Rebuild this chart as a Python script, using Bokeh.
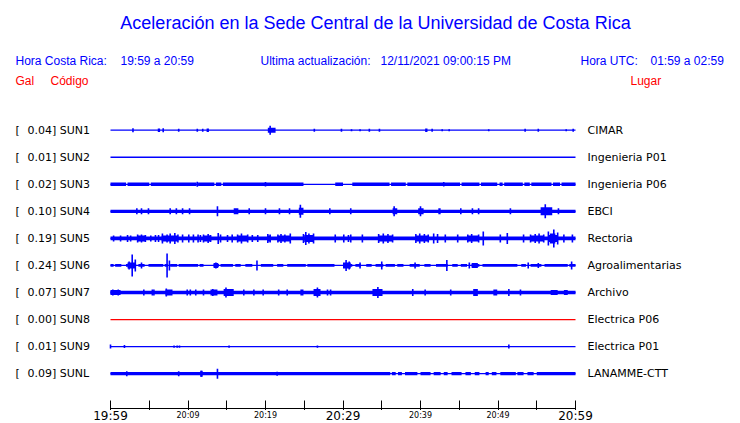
from bokeh.plotting import figure
from bokeh.layouts import column
from bokeh.models import Range1d, LinearAxis, FixedTicker
from bokeh.core.properties import value
from bokeh.embed import file_html
from bokeh.resources import INLINE

# ---------------- data ----------------
stations = ["SUN1", "SUN2", "SUN3", "SUN4", "SUN5", "SUN6", "SUN7", "SUN8", "SUN9", "SUNL"]
peak_gal = [0.04, 0.01, 0.02, 0.10, 0.19, 0.24, 0.07, 0.00, 0.01, 0.09]
places = ["CIMAR", "Ingenieria P01", "Ingenieria P06", "EBCI", "Rectoria",
          "Agroalimentarias", "Archivo", "Electrica P06", "Electrica P01", "LANAMME-CTT"]

tick_minutes = [0, 10, 20, 30, 40, 50, 60]
tick_labels = ["19:59", "20:09", "20:19", "20:29", "20:39", "20:49", "20:59"]
major_tick_minutes = [0, 30, 60]
tick_step = 5

# noise band half-amplitude per station (trace units)
band_half = {"SUN1": 0, "SUN2": 0, "SUN3": 1.7, "SUN4": 1.6, "SUN5": 1.9, "SUN6": 1.4,
             "SUN7": 1.7, "SUN8": 0, "SUN9": 0, "SUNL": 1.6}

# minutes where the noise band is present [start, end]
band_segments = {
    "SUN3": [[0, 2.0], [2.2, 5.0], [5.2, 11.1], [11.3, 13.4], [13.6, 14.3], [14.5, 24.9],
             [29.0, 30.0], [31.2, 36.0], [36.2, 38.1], [38.3, 45.1], [45.3, 47.6], [47.8, 49.9],
             [50.2, 50.6], [50.8, 53.2], [53.4, 54.1], [54.3, 56.9], [57.1, 58.0], [58.2, 60]],
    "SUN4": [[0, 60]],
    "SUN5": [[0, 60]],
    "SUN6": [[0.0, 0.4], [0.6, 1.4], [2.0, 3.3], [3.6, 4.4], [4.9, 6.8], [7.0, 7.4], [7.7, 8.6],
             [8.8, 11.3], [11.5, 12.0], [13.3, 14.0], [14.2, 15.8], [16.1, 16.8], [17.4, 18.3],
             [19.4, 21.0], [21.5, 22.3], [22.8, 25.2], [25.4, 28.9], [30.0, 31.2], [31.6, 32.3],
             [33.0, 33.7], [34.2, 35.2], [35.5, 36.7], [37.0, 37.8], [38.6, 39.9], [40.5, 41.3],
             [42.0, 43.5], [44.1, 44.8], [45.2, 46.0], [46.6, 47.6], [48.0, 52.5], [53.0, 53.6],
             [54.2, 55.6], [56.0, 59.0], [59.2, 60]],
    "SUN7": [[0, 60]],
    "SUNL": [[0, 36.1], [36.3, 36.8], [37.1, 37.6], [38.0, 39.6], [40.0, 41.3], [41.7, 42.6],
             [43.0, 43.5], [44.0, 45.3], [45.8, 46.5], [47.0, 47.6], [48.4, 48.8], [49.2, 49.8],
             [50.3, 52.3], [52.5, 53.3], [53.8, 54.6], [55.0, 60]],
}

# bursts: [start min, end min, half amplitude]
bursts = {
    "SUN1": [[6.1, 6.4, 1.8], [12.4, 12.7, 1.8], [20.3, 21.3, 2.5], [40.6, 40.9, 1.8]],
    "SUN4": [[15.9, 16.5, 3.0], [23.0, 23.2, 3.0], [24.3, 24.9, 3.5], [36.4, 37.0, 3.0],
             [39.7, 40.4, 3.0], [42.3, 42.6, 3.0], [55.5, 57.0, 4.0]],
    "SUN5": [[3.5, 4.5, 3.0], [6.6, 8.7, 3.0], [12.0, 13.0, 3.0], [16.4, 17.7, 3.0],
             [20.3, 20.7, 3.0], [21.6, 23.2, 3.0], [25.0, 26.2, 3.5], [34.6, 36.4, 3.0],
             [39.4, 41.0, 3.0], [46.1, 47.5, 3.0], [54.2, 55.9, 3.0], [56.5, 57.7, 3.5],
             [56.7, 57.4, 5.0]],
    "SUN6": [[2.2, 3.2, 3.0], [30.0, 31.0, 3.0], [13.3, 13.9, 2.5], [46.6, 47.4, 2.5]],
    "SUN7": [[0, 1.3, 2.5], [7.1, 8.0, 3.0], [12.9, 13.8, 3.0], [14.6, 15.9, 3.5],
             [24.5, 24.9, 3.0], [26.2, 27.1, 3.5], [33.8, 35.1, 3.5], [46.8, 47.4, 3.5],
             [49.4, 49.9, 3.0], [56.8, 57.7, 2.5], [58.5, 59.0, 2.5]],
    "SUNL": [[11.6, 11.9, 3.0]],
}

# spikes: [minute, half amplitude]
spikes = {
    "SUN1": [[2.9, 2], [6.8, 2], [8.8, 1.5], [11.2, 1.5], [11.9, 1.5], [20.6, 4.5], [26.3, 1.5],
             [29.8, 1.5], [31.1, 1], [32.2, 1], [33.4, 1.5], [34.7, 1.5], [41.5, 1.5], [42.8, 1],
             [43.7, 1], [48.8, 1], [53.5, 1.5], [55.2, 1.5], [58.8, 1], [59.7, 1.5]],
    "SUN3": [[11.2, 2.5], [20.0, 2.3], [43.0, 2.3]],
    "SUN4": [[3.4, 3], [4.0, 3], [4.9, 3], [7.7, 3], [8.5, 3], [9.3, 3], [10.2, 3], [13.8, 5],
             [17.9, 3], [20.0, 3], [21.8, 3], [24.5, 6.5], [28.3, 3], [31.0, 3], [36.6, 5],
             [40.0, 5], [45.2, 3], [46.7, 3], [47.5, 3], [51.6, 3], [56.1, 7], [57.8, 3]],
    "SUN5": [[0.4, 3], [1.3, 3], [2.2, 3.5], [2.6, 3], [3.5, 4], [4.0, 4], [4.5, 3.5], [5.2, 3],
             [5.8, 3.5], [6.2, 3.5], [6.7, 5], [7.3, 4], [7.7, 5], [8.3, 5.5], [8.7, 4], [9.3, 4],
             [10.1, 4], [10.7, 4], [11.3, 4], [11.6, 3.5], [12.0, 4], [12.6, 4.5], [12.9, 3.5],
             [13.9, 5.5], [14.2, 4], [15.1, 3.5], [15.7, 4], [16.4, 4], [16.9, 5], [17.7, 4],
             [18.3, 3.5], [19.0, 3.5], [20.3, 4.5], [20.6, 4], [21.6, 4], [22.0, 4.5], [22.5, 4],
             [23.2, 5], [24.9, 4.5], [25.2, 6.5], [25.6, 5], [26.2, 5], [29.0, 4], [30.1, 4],
             [30.7, 3.5], [31.0, 4], [32.5, 4], [34.6, 4.5], [35.2, 5], [35.8, 4.5], [36.4, 4],
             [39.4, 4.5], [39.9, 5], [40.5, 4.5], [41.0, 4], [41.7, 5], [42.2, 4.5], [43.2, 4],
             [44.8, 4], [46.1, 4], [46.6, 4.5], [47.5, 4], [48.1, 7], [50.3, 4], [51.2, 5.5],
             [53.3, 4], [54.2, 4], [54.8, 4.5], [55.3, 5], [55.9, 4], [56.5, 7], [57.2, 9],
             [57.7, 6], [58.5, 4], [59.6, 4]],
    "SUN6": [[2.8, 11], [3.2, 6], [2.4, 4], [4.0, 3], [7.3, 12], [7.6, 5], [13.6, 3], [18.9, 5],
             [30.4, 5.5], [30.8, 4], [32.2, 3], [35.0, 4], [39.3, 3], [43.4, 5.5], [46.3, 3],
             [53.9, 3], [55.2, 2.5], [59.5, 4]],
    "SUN7": [[0.3, 3], [1.0, 3], [4.3, 3], [5.4, 3], [5.6, 3], [7.2, 4], [9.9, 3], [10.3, 3],
             [11.0, 3], [12.0, 3], [13.2, 3.5], [14.9, 5], [17.2, 3], [18.5, 3], [19.7, 3],
             [21.7, 3], [22.8, 3], [26.7, 5], [28.0, 3], [28.4, 3], [34.5, 5.5], [39.0, 3.5],
             [40.6, 3], [43.9, 3], [51.4, 3.5], [52.9, 3]],
    "SUN9": [[0.0, 2], [1.8, 1.5], [8.2, 1.2], [8.6, 1.2], [8.9, 1.2], [15.3, 1.2],
             [26.7, 1.2], [51.4, 2]],
    "SUNL": [[2.1, 2.5], [8.8, 2.5], [11.7, 3], [13.8, 5], [21.5, 2]],
}

# ---------------- layout ----------------
FRAME_W, FRAME_H, AXIS_H = 724, 408, 13
T0_PX, PX_PER_MIN = 110, 7.75        # px of 19:59, px per minute
ROW0_PX, ROW_PX = 129.7, 27.05       # px of first trace, px between traces
BLUE, RED = "#0000FF", "#FF0000"


def X(px):
    return (px - T0_PX) / PX_PER_MIN


def Y(py):
    return (py - ROW0_PX) / ROW_PX


xr = Range1d(-T0_PX / PX_PER_MIN, (FRAME_W - T0_PX) / PX_PER_MIN)
p = figure(frame_width=FRAME_W, frame_height=FRAME_H, x_range=xr,
           y_range=Range1d((FRAME_H - ROW0_PX) / ROW_PX, -ROW0_PX / ROW_PX),
           x_axis_type=None, y_axis_type=None,
           output_backend="svg", toolbar_location=None, min_border=0)
p.outline_line_color = None
p.background_fill_color = "white"
p.border_fill_color = "white"

# ---- traces ----
for i, st in enumerate(stations):
    color = RED if peak_gal[i] == 0 else BLUE
    p.segment(x0=[0], y0=[i], x1=[60], y1=[i], line_color=color, line_width=1.3)
    h = band_half[st] / ROW_PX
    segs = band_segments.get(st, [])
    if segs and h > 0:
        p.quad(left=[s[0] for s in segs], right=[s[1] for s in segs],
               top=[i - h] * len(segs), bottom=[i + h] * len(segs),
               fill_color=color, line_color=None)
    b = bursts.get(st, [])
    if b:
        p.quad(left=[s[0] for s in b], right=[s[1] for s in b],
               top=[i - s[2] / ROW_PX for s in b], bottom=[i + s[2] / ROW_PX for s in b],
               fill_color=color, line_color=None)
    sp = spikes.get(st, [])
    if sp:
        p.segment(x0=[s[0] for s in sp], x1=[s[0] for s in sp],
                  y0=[i - s[1] / ROW_PX for s in sp], y1=[i + s[1] / ROW_PX for s in sp],
                  line_color=color, line_width=1.6)

# ---- left / right labels ----
rows = list(range(len(stations)))
p.text(x=[X(15)] * len(rows), y=rows, text=["["] * len(rows),
       text_font=value("DejaVu Sans"), text_font_size="11px", text_color="black",
       text_baseline="middle", text_align="left")
p.text(x=[X(27)] * len(rows), y=rows,
       text=[f"{v:.2f}] {s}" for v, s in zip(peak_gal, stations)],
       text_font=value("DejaVu Sans"), text_font_size="11px", text_color="black",
       text_baseline="middle", text_align="left")
p.text(x=[X(587)] * len(rows), y=rows, text=places,
       text_font=value("DejaVu Sans"), text_font_size="11px", text_color="black",
       text_baseline="middle", text_align="left")

# ---- header ----
p.text(x=[X(375)], y=[Y(22)], text=["Aceleración en la Sede Central de la Universidad de Costa Rica"],
       text_font=value("Liberation Sans"), text_font_size="18px", text_color=BLUE,
       text_align="center", text_baseline="middle")
hdr_x = [15, 120, 260, 380, 580, 650]
hdr_t = ["Hora Costa Rica:", "19:59 a 20:59", "Ultima actualización:",
         "12/11/2021 09:00:15 PM", "Hora UTC:", "01:59 a 02:59"]
p.text(x=[X(v) for v in hdr_x], y=[Y(60.5)] * len(hdr_x), text=hdr_t,
       text_font=value("Liberation Sans"), text_font_size="12px", text_color=BLUE,
       text_align="left", text_baseline="middle")
red_x = [15, 50, 630]
red_t = ["Gal", "Código", "Lugar"]
p.text(x=[X(v) for v in red_x], y=[Y(80)] * len(red_x), text=red_t,
       text_font=value("Liberation Sans"), text_font_size="12px", text_color=RED,
       text_align="left", text_baseline="middle")

# ---- time axis (line + ticks) ----
all_ticks = list(range(0, 61, tick_step))
ax = LinearAxis(bounds=(0, 60), ticker=FixedTicker(ticks=all_ticks, minor_ticks=[]),
                major_tick_in=8, major_tick_out=2, minor_tick_in=0, minor_tick_out=0,
                major_label_text_font_size="0px", major_label_standoff=0,
                major_label_overrides={t: "" for t in all_ticks},
                axis_line_color="black", major_tick_line_color="black",
                axis_line_width=1.2)
p.add_layout(ax, "below")

# ---- tick labels strip, sharing the time scale ----
pa = figure(frame_width=FRAME_W, frame_height=AXIS_H, x_range=xr,
            y_range=Range1d(AXIS_H, 0), x_axis_type=None, y_axis_type=None,
            output_backend="svg", toolbar_location=None, min_border=0)
pa.outline_line_color = None
pa.background_fill_color = "white"
pa.border_fill_color = "white"
big = [(t, l) for t, l in zip(tick_minutes, tick_labels) if t in major_tick_minutes]
small = [(t, l) for t, l in zip(tick_minutes, tick_labels) if t not in major_tick_minutes]
pa.text(x=[b[0] for b in big], y=[5.5] * len(big), text=[b[1] for b in big],
        text_font=value("DejaVu Sans"), text_font_size="12px", text_color="black",
        text_align="center", text_baseline="middle")
pa.text(x=[s[0] for s in small], y=[4.5] * len(small), text=[s[1] for s in small],
        text_font=value("DejaVu Sans"), text_font_size="8px", text_color="black",
        text_align="center", text_baseline="middle")

layout = column(p, pa, spacing=0)
open("out.html", "w").write(file_html(layout, INLINE))
